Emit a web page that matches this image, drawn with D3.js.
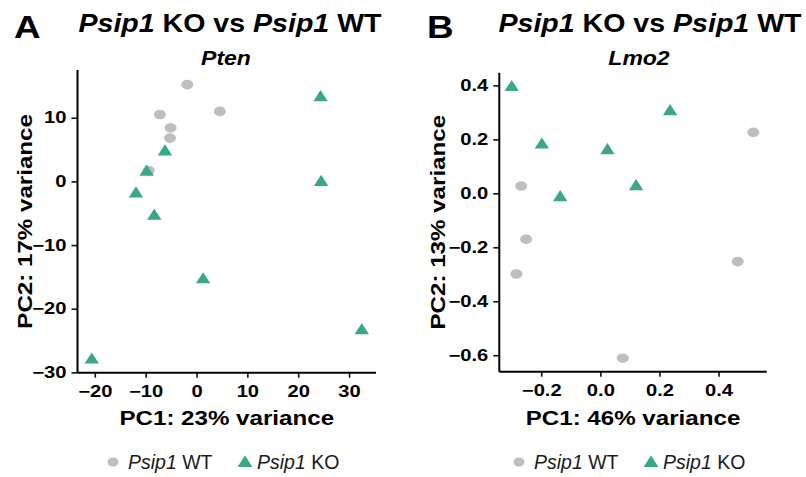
<!DOCTYPE html>
<html>
<head>
<meta charset="utf-8">
<script src="https://cdn.jsdelivr.net/npm/d3@7"></script>
<style>
  body { margin: 0; background: #fff; }
  svg { display: block; font-family: "Liberation Sans", Arial, Helvetica, sans-serif; }
</style>
</head>
<body>
<svg id="chart" width="806" height="477"></svg>
<script>
// Pten panel
const ptenWtPc1 = [-1.8, 4.6, -7.2, -5.1, -5.2, -9.4];
const ptenWtPc2 = [15.2, 11.0, 10.5, 8.4, 6.8, 1.7];
const ptenKoPc1 = [24.4, 24.5, -6.2, -9.8, -11.9, -8.3, 1.3, 32.5, -20.6];
const ptenKoPc2 = [13.4, 0.1, 4.9, 1.7, -1.7, -5.2, -15.2, -23.2, -27.8];
const ptenXTicks = [-20, -10, 0, 10, 20, 30];
const ptenYTicks = [-30, -20, -10, 0, 10];

// Lmo2 panel
const lmo2WtPc1 = [0.518, -0.268, -0.251, -0.284, 0.465, 0.076];
const lmo2WtPc2 = [0.226, 0.027, -0.170, -0.299, -0.253, -0.611];
const lmo2KoPc1 = [-0.300, 0.236, -0.198, 0.024, 0.121, -0.136];
const lmo2KoPc2 = [0.398, 0.309, 0.185, 0.164, 0.031, -0.010];
const lmo2XTicks = [-0.2, 0.0, 0.2, 0.4];
const lmo2YTicks = [-0.6, -0.4, -0.2, 0.0, 0.2, 0.4];

const wtColor = '#bebebe';
const koColor = '#3aa981';
const sx = 1.15; // the figure's font runs wider than Arial
const tickSx = 1.26;

const svg = d3.select('#chart');

// text placed at (x,y), stretched along its own direction
function wideText(sel, x, y, size, rot, s) {
  return sel.append('text')
    .attr('transform', `translate(${x},${y})${rot ? ' rotate(' + rot + ')' : ''} scale(${s || sx},1)`)
    .attr('text-anchor', 'middle')
    .style('font-size', size + 'px').style('font-weight', 'bold');
}

function drawPanel(p) {
  const x = d3.scaleLinear().domain(p.xDomain).range([p.left, p.right]);
  const y = d3.scaleLinear().domain(p.yDomain).range([p.bottom, p.top]);

  const g = svg.append('g');

  // panel letter + titles
  wideText(g, p.letterX, 38, 32).attr('text-anchor', 'start').text(p.letter);

  const title = wideText(g, p.titleX, 31.5, 25.5, 0, 1.12);
  title.append('tspan').style('font-style', 'italic').text('Psip1');
  title.append('tspan').text(' KO vs ');
  title.append('tspan').style('font-style', 'italic').text('Psip1');
  title.append('tspan').text(' WT');

  wideText(g, p.subX, 65, 20).style('font-style', 'italic').text(p.gene);

  // axes
  const xAxis = g.append('g')
    .attr('transform', `translate(0,${p.bottom})`)
    .call(d3.axisBottom(x).tickValues(p.xTicks).tickSize(5).tickPadding(3)
      .tickFormat(p.fmt));
  const yAxis = g.append('g')
    .attr('transform', `translate(${p.left},0)`)
    .call(d3.axisLeft(y).tickValues(p.yTicks).tickSize(6).tickPadding(5)
      .tickFormat(p.fmt));

  [xAxis, yAxis].forEach((a) => {
    a.select('.domain').attr('stroke', '#000').attr('stroke-width', 2);
    a.selectAll('.tick line').attr('stroke', '#111').attr('stroke-width', 1.6);
    a.selectAll('.tick text')
      .style('font-size', '16px').style('font-weight', 'bold').attr('fill', '#000');
  });
  xAxis.select('.domain').attr('d', `M${p.left},0H${p.right}`);
  yAxis.select('.domain').attr('d', `M0,${p.top}V${p.bottom}`);
  xAxis.selectAll('.tick text').attr('dy', '1em')
    .attr('transform', `scale(${tickSx},1)`);
  yAxis.selectAll('.tick text')
    .attr('transform', `translate(-11,0) scale(${tickSx},1) translate(11,0)`);

  // axis titles
  wideText(g, (p.left + p.right) / 2, 425, 21).text(p.xLabel);
  wideText(g, p.yLabelX, (p.top + p.bottom) / 2, 21, -90).text(p.yLabel);

  // points
  g.selectAll('.wt')
    .data(p.wtX.map((v, i) => [v, p.wtY[i]]))
    .join('ellipse')
    .attr('class', 'wt')
    .attr('cx', (d) => x(d[0]))
    .attr('cy', (d) => y(d[1]))
    .attr('rx', 6).attr('ry', 4.8)
    .attr('fill', wtColor);

  g.selectAll('.ko')
    .data(p.koX.map((v, i) => [v, p.koY[i]]))
    .join('path')
    .attr('class', 'ko')
    .attr('d', 'M0,-6L7.2,5.2L-7.2,5.2Z')
    .attr('transform', (d) => `translate(${x(d[0])},${y(d[1])})`)
    .attr('fill', koColor);

  // legend
  const lg = g.append('g').attr('transform', `translate(${p.legendX},462)`);
  lg.append('ellipse').attr('cx', 0).attr('cy', 0).attr('rx', 5.5).attr('ry', 4.6).attr('fill', wtColor);
  const t1 = lg.append('text').attr('x', 15).attr('y', 6.5)
    .style('font-size', '19.5px').attr('fill', '#1a1a1a');
  t1.append('tspan').style('font-style', 'italic').text('Psip1');
  t1.append('tspan').text(' WT');
  lg.append('path').attr('d', 'M132,-6.5L139.5,5L124.5,5Z').attr('fill', koColor);
  const t2 = lg.append('text').attr('x', 144).attr('y', 6.5)
    .style('font-size', '19.5px').attr('fill', '#1a1a1a');
  t2.append('tspan').style('font-style', 'italic').text('Psip1');
  t2.append('tspan').text(' KO');
}

drawPanel({
  letter: 'A', letterX: 14, titleX: 230, subX: 226, gene: 'Pten',
  left: 77.5, right: 376, top: 70, bottom: 372.7,
  xDomain: [-23.4, 35.3], yDomain: [-30.05, 17.5],
  xTicks: ptenXTicks, yTicks: ptenYTicks,
  fmt: (d) => d3.format('d')(d).replace('-', '\u2212'),
  wtX: ptenWtPc1, wtY: ptenWtPc2, koX: ptenKoPc1, koY: ptenKoPc2,
  xLabel: 'PC1: 23% variance', yLabel: 'PC2: 17% variance', yLabelX: 31.5,
  legendX: 113
});

drawPanel({
  letter: 'B', letterX: 427, titleX: 650, subX: 639, gene: 'Lmo2',
  left: 499.3, right: 766.7, top: 72.7, bottom: 371.7,
  xDomain: [-0.342, 0.563], yDomain: [-0.661, 0.447],
  xTicks: lmo2XTicks, yTicks: lmo2YTicks,
  fmt: (d) => d3.format('.1f')(d).replace('-', '\u2212'),
  wtX: lmo2WtPc1, wtY: lmo2WtPc2, koX: lmo2KoPc1, koY: lmo2KoPc2,
  xLabel: 'PC1: 46% variance', yLabel: 'PC2: 13% variance', yLabelX: 444.5,
  legendX: 519
});
</script>
</body>
</html>
